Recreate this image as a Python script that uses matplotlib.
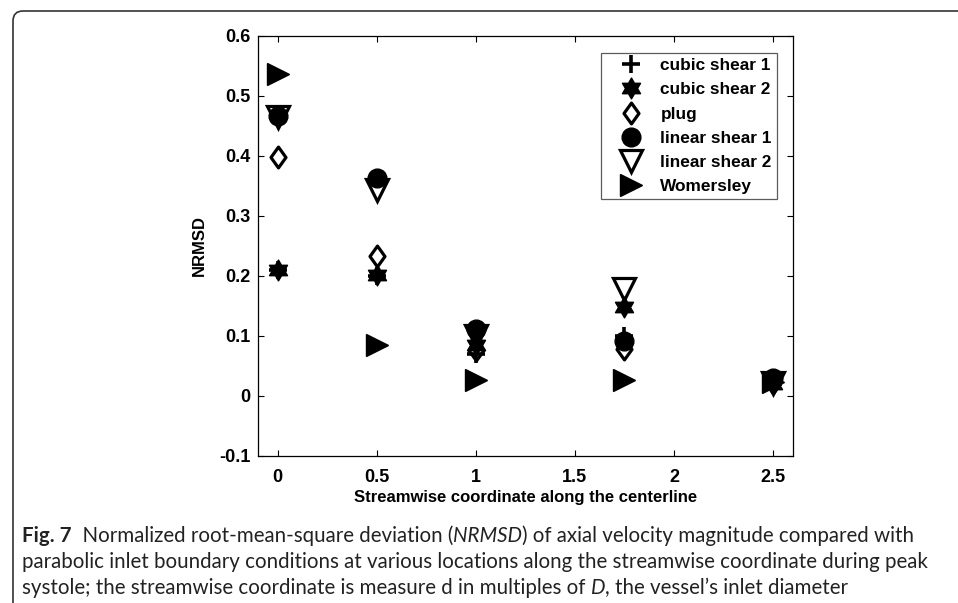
import numpy as np
import matplotlib
matplotlib.use('Agg')
from matplotlib import pyplot as plt
from matplotlib.path import Path
from matplotlib.patches import FancyBboxPatch
from matplotlib.transforms import IdentityTransform

# streamwise locations (multiples of D)
x_loc = [0, 0.5, 1, 1.75, 2.5]

# NRMSD per inlet condition
cubic_shear_1 = [0.210, 0.200, 0.070, 0.100, 0.020]
cubic_shear_2 = [0.210, 0.202, 0.085, 0.148, 0.020]
plug = [0.399, 0.234, 0.076, 0.078, 0.022]
linear_shear_1 = [0.467, 0.363, 0.112, 0.092, 0.030]
linear_shear_2 = [0.465, 0.343, 0.100, 0.178, 0.022]
womersley = [0.537, 0.085, 0.026, 0.026, 0.024]

labels = ['cubic shear 1', 'cubic shear 2', 'plug', 'linear shear 1',
          'linear shear 2', 'Womersley']

xticks = [0, 0.5, 1, 1.5, 2, 2.5]
yticks = [-0.1, 0, 0.1, 0.2, 0.3, 0.4, 0.5, 0.6]

plt.rcParams['font.family'] = ['Liberation Sans', 'DejaVu Sans']


def hexagram():
    '''Star of David marker like matlab's "h".'''
    ang = np.pi / 2 + np.arange(12) * np.pi / 6
    r = np.where(np.arange(12) % 2 == 0, 1.0, 1 / np.sqrt(3))
    verts = np.column_stack([r * np.cos(ang), r * np.sin(ang)])
    verts = np.vstack([verts, verts[0]])
    return Path(verts, closed=True)


def diamond():
    '''matlab-ish diamond, a bit narrower than tall.'''
    verts = [(0, 1), (0.72, 0), (0, -1), (-0.72, 0), (0, 1)]
    return Path(verts, closed=True)


W, H = 958, 603
fig = plt.figure(figsize=(W / 100, H / 100), dpi=100)
ax = fig.add_axes([257.7 / W, 1 - 456 / H, (793 - 257.7) / W, (456 - 36) / H])

series = [cubic_shear_1, cubic_shear_2, plug, linear_shear_1, linear_shear_2, womersley]
styles = [
    dict(marker='+', ms=13, mfc='k', mew=2.6),
    dict(marker=hexagram(), ms=15, mfc='k', mew=1),
    dict(marker=diamond(), ms=15, mfc='none', mew=2.3),
    dict(marker='o', ms=13.5, mfc='k', mew=1),
    dict(marker='v', ms=15.5, mfc='none', mew=2.3),
    dict(marker='>', ms=15.5, mfc='k', mew=1),
]
for vals, lab, st in zip(series, labels, styles):
    ax.plot(x_loc, vals, ls='none', mec='k', label=lab, **st)

ax.set_xlim(-0.1, 2.6)
ax.set_ylim(-0.1, 0.6)
ax.set_xticks(xticks)
ax.set_xticklabels(['0', '0.5', '1', '1.5', '2', '2.5'])
ax.set_yticks(yticks)
ax.set_yticklabels(['-0.1', '0', '0.1', '0.2', '0.3', '0.4', '0.5', '0.6'])
ax.tick_params(direction='in', length=4, width=0.8, top=True, right=True,
               labelsize=13, pad=5)
ax.tick_params(axis='x', pad=9)
for t in ax.get_xticklabels() + ax.get_yticklabels():
    t.set_fontweight('bold')
for s in ax.spines.values():
    s.set_linewidth(0.9)
ax.set_xlabel('Streamwise coordinate along the centerline', fontsize=12,
              fontweight='bold', labelpad=3)
ax.set_ylabel('NRMSD', fontsize=12, fontweight='bold', labelpad=9)

leg = ax.legend(loc='upper right', bbox_to_anchor=(0.970, 0.9595),
                borderaxespad=0, fancybox=False, edgecolor='#333333',
                prop=dict(size=12.4, weight='bold'), handlelength=2.9,
                handletextpad=0.25, labelspacing=0.53, borderpad=0.3)
leg.get_frame().set_linewidth(0.9)

# rounded frame of the figure panel
frame = FancyBboxPatch((13, -100), 1200, H - 11 + 100,
                       boxstyle='round,pad=0,rounding_size=10',
                       transform=IdentityTransform(), fill=False,
                       edgecolor='#333333', lw=1.2)
fig.add_artist(frame)

# caption, drawn piece by piece so bold/italic can mix
cap_font = ['Lato', 'DejaVu Sans']
lines = [
    [('Fig. 7', 'bold', 'normal'), ('  Normalized root-mean-square deviation (', 'normal', 'normal'),
     ('NRMSD', 'normal', 'italic'),
     (') of axial velocity magnitude compared with', 'normal', 'normal')],
    [('parabolic inlet boundary conditions at various locations along the streamwise coordinate during peak',
      'normal', 'normal')],
    [('systole; the streamwise coordinate is measure d in multiples of ', 'normal', 'normal'),
     ('D', 'normal', 'italic'), (', the vessel\u2019s inlet diameter', 'normal', 'normal')],
]
baselines = [542, 568, 594]

# pick a size so the longest line spans like the original
fig.canvas.draw()
r = fig.canvas.get_renderer()
probe = fig.text(0, 0, lines[1][0][0], family=cap_font, size=12)
cap_size = 12 * 905 / probe.get_window_extent(renderer=r).width
probe.remove()

for parts, yb in zip(lines, baselines):
    x = 22
    for txt, wt, sty in parts:
        t = fig.text(x / W, 1 - yb / H, txt, family=cap_font, size=cap_size,
                     weight=wt, style=sty, va='baseline', ha='left', color='#222222')
        bb = t.get_window_extent(renderer=r)
        x += bb.width

fig.savefig('out.png', dpi=100)
